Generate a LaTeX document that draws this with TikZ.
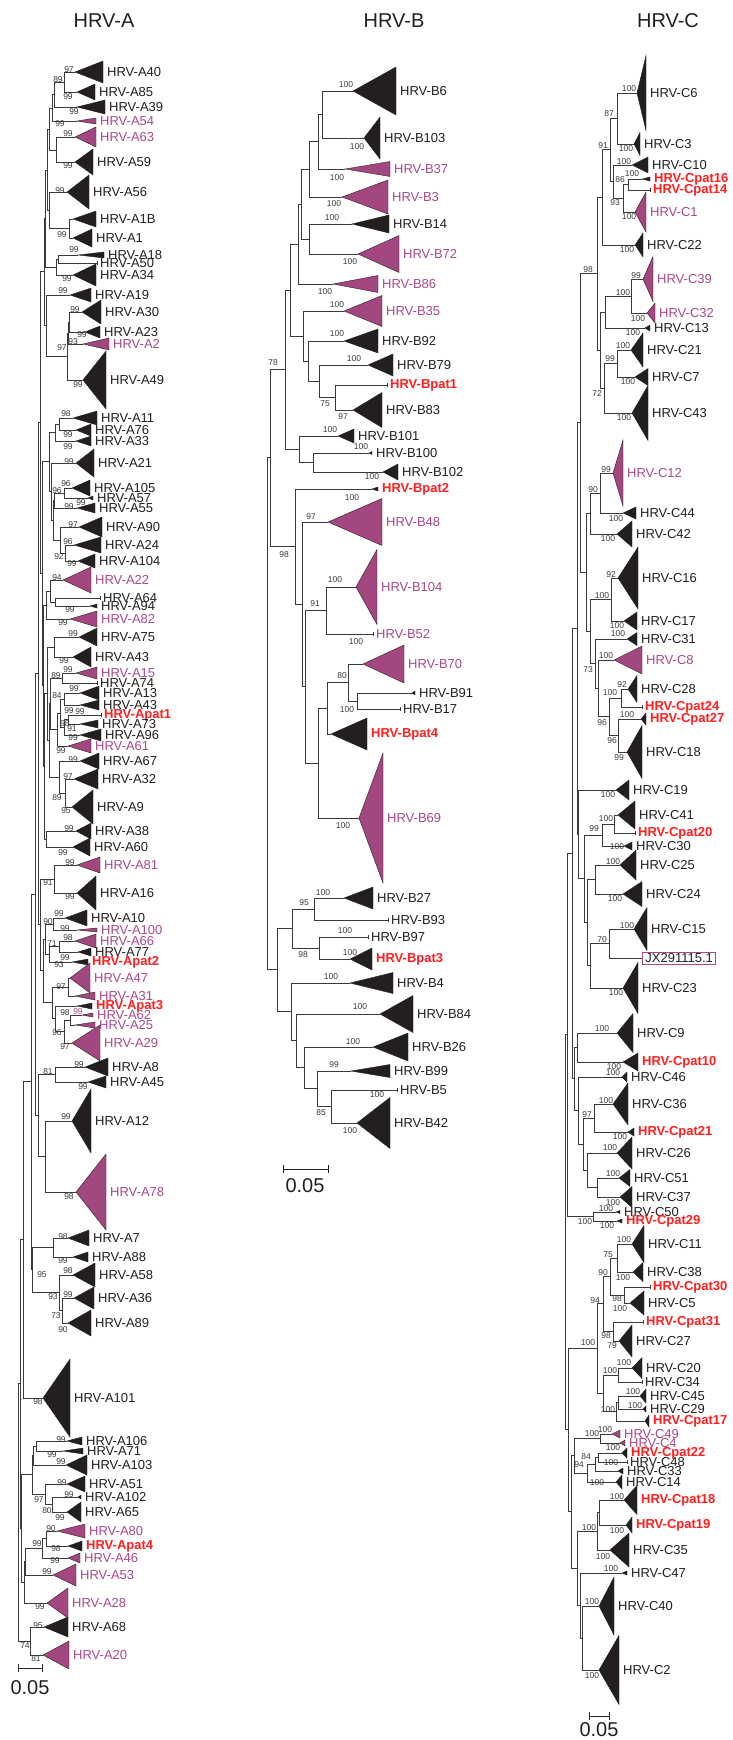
\documentclass[tikz,border=0pt]{standalone}
\usepackage{fontspec}
\setmainfont{Liberation Sans}

\definecolor{tblack}{HTML}{231F20}
\definecolor{tpurple}{HTML}{A2477F}
\definecolor{lpurple}{HTML}{A84A8C}
\definecolor{pred}{HTML}{FF1F1F}
\definecolor{lgrey}{HTML}{3A3A3A}

% parent x, child1 x/y, child2 x/y
\newcommand{\treefork}[5]{\draw[branch] (#2,#3) -| (#1,#5) -- (#4,#5);}
% apex x, y, base x, half height, fill style, text style, label
\newcommand{\clade}[7]{\filldraw[#5] (#1,#2) -- (#3,#2-#4) -- (#3,#2+#4) -- cycle;
  \node[leaf,#6] at (#3+4,#2) {#7};}
% single sequence: tip x, y, text style, label
\newcommand{\leaftip}[4]{\draw[branch] (#1,#2-2) -- (#1,#2+2);
  \node[leaf,#3] at (#1+3,#2) {#4};}
\newcommand{\boot}[3]{\node[bootn] at (#1,#2) {#3};}

\begin{document}
\begin{tikzpicture}[x=1pt,y=-1pt]
        \tikzstyle{every node}=[inner sep=0pt]
        \tikzstyle{branch}=[draw=lgrey, line width=0.75pt]
        \tikzstyle{blk}=[fill=tblack, draw=tblack, line width=0.4pt]
        \tikzstyle{pur}=[fill=tpurple, draw=tblack, line width=0.4pt]
        \tikzstyle{leaf}=[anchor=west, text=tblack, font=\fontsize{13}{15}\selectfont]
        \tikzstyle{purp}=[text=lpurple]
        \tikzstyle{pat}=[text=pred, font=\fontsize{13}{15}\selectfont\bfseries]
        \tikzstyle{bootn}=[text=lgrey, font=\fontsize{8.5}{10}\selectfont]
        \tikzstyle{treetitle}=[text=tblack, font=\fontsize{20}{24}\selectfont]
        \tikzstyle{scalebar}=[draw=tblack, line width=0.9pt]

        \fill[white] (0,0) rectangle (733,1740);
        \useasboundingbox (0,0) rectangle (733,1740);

        \node[treetitle] (titleA) at (104,21) {HRV-A};
        \node[treetitle] (titleB) at (394,21) {HRV-B};
        \node[treetitle] (titleC) at (668,21) {HRV-C};

        %% HRV-A
        \clade{75}{72}{103}{11}{blk}{}{HRV-A40}
        \clade{77}{92}{95}{8}{blk}{}{HRV-A85}
        \clade{77}{107}{105}{7}{blk}{}{HRV-A39}
        \clade{77}{121}{96}{3}{pur}{purp}{HRV-A54}
        \clade{75}{137}{96}{10}{pur}{purp}{HRV-A63}
        \clade{75}{162}{93}{13}{blk}{}{HRV-A59}
        \clade{67}{192}{89}{17}{blk}{}{HRV-A56}
        \clade{73}{219}{96}{8}{blk}{}{HRV-A1B}
        \clade{73}{238}{92}{9}{blk}{}{HRV-A1}
        \clade{78}{255}{104}{3}{blk}{}{HRV-A18}
        \leaftip{97}{263}{}{HRV-A50}
        \clade{73}{275}{96}{11}{blk}{}{HRV-A34}
        \clade{70}{295}{91}{7}{blk}{}{HRV-A19}
        \clade{82}{312}{101}{12}{blk}{}{HRV-A30}
        \clade{85}{332}{100}{6}{blk}{}{HRV-A23}
        \clade{83}{344}{109}{6}{pur}{purp}{HRV-A2}
        \clade{83}{380}{106}{29}{blk}{}{HRV-A49}
        \clade{73}{418}{97}{7}{blk}{}{HRV-A11}
        \clade{76}{430}{91}{6}{blk}{}{HRV-A76}
        \clade{76}{441}{91}{5}{blk}{}{HRV-A33}
        \clade{76}{463}{94}{14}{blk}{}{HRV-A21}
        \clade{72}{488}{90}{8}{blk}{}{HRV-A105}
        \clade{88}{498}{93}{2}{blk}{}{HRV-A57}
        \clade{77}{508}{95}{5}{blk}{}{HRV-A55}
        \clade{79}{527}{102}{10}{blk}{}{HRV-A90}
        \clade{74}{545}{101}{8}{blk}{}{HRV-A24}
        \clade{78}{561}{95}{7}{blk}{}{HRV-A104}
        \clade{63}{580}{91}{13}{pur}{purp}{HRV-A22}
        \leaftip{100}{598}{}{HRV-A64}
        \clade{90}{606}{97}{2}{blk}{}{HRV-A94}
        \clade{70}{619}{97}{8}{pur}{purp}{HRV-A82}
        \clade{79}{637}{97}{9}{blk}{}{HRV-A75}
        \clade{73}{657}{91}{10}{blk}{}{HRV-A43}
        \clade{76}{673}{97}{6}{pur}{purp}{HRV-A15}
        \leaftip{97}{683}{}{HRV-A74}
        \clade{80}{693}{99}{7}{blk}{}{HRV-A13}
        \clade{80}{705}{99}{5}{blk}{}{HRV-A43}
        \leaftip{101}{715}{pat}{HRV-Apat1}
        \clade{80}{724}{98}{4}{blk}{}{HRV-A73}
        \clade{80}{735}{101}{6}{blk}{}{HRV-A96}
        \clade{68}{746}{91}{7}{pur}{purp}{HRV-A61}
        \clade{80}{761}{99}{8}{blk}{}{HRV-A67}
        \clade{74}{779}{98}{10}{blk}{}{HRV-A32}
        \clade{72}{807}{93}{17}{blk}{}{HRV-A9}
        \clade{76}{831}{91}{8}{blk}{}{HRV-A38}
        \clade{73}{847}{90}{9}{blk}{}{HRV-A60}
        \clade{77}{865}{100}{8}{pur}{purp}{HRV-A81}
        \clade{77}{893}{96}{17}{blk}{}{HRV-A16}
        \clade{65}{918}{87}{8}{blk}{}{HRV-A10}
        \clade{77}{930}{97}{2}{pur}{purp}{HRV-A100}
        \clade{75}{941}{96}{7}{pur}{purp}{HRV-A66}
        \clade{78}{952}{91}{4}{blk}{}{HRV-A77}
        \clade{72}{962}{88}{3}{blk}{pat}{HRV-Apat2}
        \clade{70}{978}{90}{15}{pur}{purp}{HRV-A47}
        \clade{75}{996}{95}{4}{pur}{purp}{HRV-A31}
        \clade{77}{1006}{92}{3}{blk}{pat}{HRV-Apat3}
        \clade{82}{1015}{93}{2}{pur}{purp}{HRV-A62}
        \clade{75}{1025}{95}{3}{pur}{purp}{HRV-A25}
        \clade{72}{1043}{100}{18}{pur}{purp}{HRV-A29}
        \clade{85}{1067}{108}{9}{blk}{}{HRV-A8}
        \clade{88}{1082}{106}{6}{blk}{}{HRV-A45}
        \clade{72}{1121}{91}{32}{blk}{}{HRV-A12}
        \clade{76}{1192}{106}{38}{pur}{purp}{HRV-A78}
        \clade{68}{1238}{89}{8}{blk}{}{HRV-A7}
        \clade{73}{1257}{88}{5}{blk}{}{HRV-A88}
        \clade{73}{1275}{95}{12}{blk}{}{HRV-A58}
        \clade{74}{1298}{94}{11}{blk}{}{HRV-A36}
        \clade{68}{1323}{91}{13}{blk}{}{HRV-A89}
        \clade{43}{1398}{70}{39}{blk}{}{HRV-A101}
        \clade{67}{1441}{82}{4}{blk}{}{HRV-A106}
        \clade{63}{1451}{83}{3}{blk}{}{HRV-A71}
        \clade{66}{1465}{87}{10}{blk}{}{HRV-A103}
        \clade{67}{1484}{85}{8}{blk}{}{HRV-A51}
        \clade{78}{1497}{81}{2}{blk}{}{HRV-A102}
        \clade{67}{1512}{81}{10}{blk}{}{HRV-A65}
        \clade{57}{1531}{85}{7}{pur}{purp}{HRV-A80}
        \clade{68}{1546}{82}{5}{blk}{pat}{HRV-Apat4}
        \clade{68}{1558}{80}{5}{pur}{purp}{HRV-A46}
        \clade{53}{1575}{76}{11}{pur}{purp}{HRV-A53}
        \clade{47}{1603}{68}{15}{pur}{purp}{HRV-A28}
        \clade{44}{1627}{68}{10}{blk}{}{HRV-A68}
        \clade{43}{1655}{69}{14}{pur}{purp}{HRV-A20}

        \treefork{64}{75}{72}{77}{92}
        \treefork{54}{64}{82}{77}{107}
        \treefork{52}{54}{94}{77}{121}
        \treefork{56}{75}{137}{75}{162}
        \treefork{49}{52}{108}{56}{150}
        \treefork{69}{73}{219}{73}{238}
        \treefork{49}{67}{192}{69}{228}
        \treefork{47}{49}{129}{49}{210}
        \treefork{58}{78}{255}{97}{263}
        \treefork{56}{58}{259}{73}{275}
        \treefork{45}{47}{170}{56}{267}
        \treefork{69}{82}{312}{85}{332}
        \treefork{68}{69}{322}{83}{344}
        \treefork{67}{68}{333}{83}{380}
        \treefork{46}{70}{295}{67}{356}
        \treefork{44}{45}{218}{46}{325}
        \treefork{59}{73}{418}{76}{430}
        \treefork{55}{59}{424}{76}{441}
        \treefork{64}{72}{488}{88}{498}
        \treefork{54}{64}{493}{77}{508}
        \treefork{65}{74}{545}{78}{561}
        \treefork{60}{79}{527}{65}{553}
        \treefork{53}{54}{500}{60}{540}
        \treefork{51}{76}{463}{53}{520}
        \treefork{49}{55}{432}{51}{491}
        \treefork{55}{100}{598}{90}{606}
        \treefork{50}{63}{580}{55}{602}
        \treefork{46}{50}{591}{70}{619}
        \treefork{54}{79}{637}{73}{657}
        \treefork{62}{76}{673}{97}{683}
        \treefork{64}{80}{693}{80}{705}
        \treefork{68}{101}{715}{80}{724}
        \treefork{64}{68}{719}{80}{735}
        \treefork{60}{64}{699}{64}{727}
        \treefork{57}{60}{713}{68}{746}
        \treefork{50}{62}{678}{57}{729}
        \treefork{65}{74}{779}{72}{807}
        \treefork{59}{80}{761}{65}{793}
        \treefork{49}{50}{703}{59}{777}
        \treefork{47}{54}{647}{49}{740}
        \treefork{46}{76}{831}{73}{847}
        \treefork{44}{47}{693}{46}{839}
        \treefork{43}{46}{605}{44}{766}
        \treefork{42}{49}{461}{43}{685}
        \treefork{40}{44}{271}{42}{573}
        \treefork{54}{77}{865}{77}{893}
        \treefork{53}{65}{918}{77}{930}
        \treefork{59}{75}{941}{78}{952}
        \treefork{49}{59}{946}{72}{962}
        \treefork{45}{53}{924}{49}{954}
        \treefork{68}{70}{978}{75}{996}
        \treefork{70}{82}{1015}{75}{1025}
        \treefork{64}{70}{1020}{72}{1043}
        \treefork{55}{77}{1006}{64}{1031}
        \treefork{52}{68}{987}{55}{1018}
        \treefork{43}{45}{939}{52}{1002}
        \treefork{40}{54}{879}{43}{970}
        \treefork{38}{40}{422}{40}{924}
        \treefork{55}{85}{1067}{88}{1082}
        \treefork{45}{72}{1121}{76}{1192}
        \treefork{38}{55}{1074}{45}{1156}
        \treefork{35}{38}{673}{38}{1115}
        \treefork{53}{68}{1238}{73}{1257}
        \treefork{62}{74}{1298}{68}{1323}
        \treefork{59}{73}{1275}{62}{1310}
        \treefork{32}{53}{1247}{59}{1292}
        \treefork{31}{35}{894}{32}{1269}
        \treefork{23}{31}{1081}{43}{1398}
        \treefork{36}{67}{1441}{63}{1451}
        \treefork{33}{36}{1446}{66}{1465}
        \treefork{52}{78}{1497}{67}{1512}
        \treefork{45}{67}{1484}{52}{1504}
        \treefork{32}{33}{1455}{45}{1494}
        \treefork{46}{57}{1531}{68}{1546}
        \treefork{42}{46}{1538}{68}{1558}
        \treefork{25}{42}{1548}{53}{1575}
        \treefork{24}{25}{1561}{47}{1603}
        \treefork{21}{32}{1474}{24}{1582}
        \treefork{20}{23}{1239}{21}{1528}
        \treefork{30}{44}{1627}{43}{1655}
        \treefork{18}{20}{1383}{30}{1641}

        \boot{69}{70}{97} \boot{68}{97}{99} \boot{58}{80}{89} \boot{74}{112}{99}
        \boot{60}{124}{99} \boot{68}{134}{99} \boot{68}{166}{99} \boot{60}{191}{99}
        \boot{62}{235}{99} \boot{74}{250}{99} \boot{67}{279}{99} \boot{63}{291}{99}
        \boot{75}{310}{99} \boot{82}{335}{99} \boot{73}{342}{93} \boot{62}{348}{97}
        \boot{78}{385}{99} \boot{66}{414}{98} \boot{68}{435}{99} \boot{68}{447}{99}
        \boot{69}{462}{99} \boot{66}{484}{96} \boot{57}{491}{96} \boot{81}{503}{99}
        \boot{69}{507}{99} \boot{73}{525}{97} \boot{68}{542}{96} \boot{59}{557}{92}
        \boot{72}{564}{99} \boot{57}{578}{94} \boot{70}{610}{99} \boot{63}{623}{99}
        \boot{73}{634}{99} \boot{64}{661}{99} \boot{68}{670}{99} \boot{56}{676}{89}
        \boot{74}{689}{99} \boot{57}{696}{84} \boot{69}{711}{99} \boot{80}{712}{99}
        \boot{65}{724}{98} \boot{72}{729}{91} \boot{73}{738}{99} \boot{61}{751}{99}
        \boot{73}{760}{99} \boot{68}{777}{97} \boot{57}{798}{89} \boot{66}{811}{95}
        \boot{69}{829}{99} \boot{63}{853}{99} \boot{70}{863}{99} \boot{48}{883}{91}
        \boot{70}{897}{99} \boot{59}{914}{99} \boot{48}{922}{90} \boot{65}{929}{99}
        \boot{68}{938}{98} \boot{52}{944}{71} \boot{65}{958}{99} \boot{59}{965}{93}
        \boot{61}{987}{97} \boot{65}{1013}{98} \node[bootn, text=lpurple] at (78,1012) {99};
        \boot{57}{1033}{96} \boot{65}{1047}{97} \boot{79}{1065}{99} \boot{48}{1072}{81}
        \boot{83}{1087}{99} \boot{66}{1117}{99} \boot{69}{1197}{98} \boot{63}{1237}{98}
        \boot{63}{1261}{99} \boot{68}{1271}{98} \boot{42}{1275}{95} \boot{68}{1295}{99}
        \boot{53}{1297}{93} \boot{56}{1316}{73} \boot{63}{1330}{90} \boot{38}{1402}{98}
        \boot{61}{1440}{99} \boot{52}{1455}{99} \boot{61}{1462}{99} \boot{62}{1483}{99}
        \boot{69}{1495}{99} \boot{39}{1500}{97} \boot{47}{1511}{80} \boot{60}{1518}{99}
        \boot{51}{1529}{90} \boot{37}{1544}{99} \boot{56}{1549}{98} \boot{55}{1561}{99}
        \boot{47}{1572}{99} \boot{40}{1607}{99} \boot{38}{1626}{95} \boot{25}{1646}{74}
        \boot{36}{1659}{81}

        \coordinate (scaleAl) at (18,1668);
        \coordinate (scaleAr) at (42,1668);
        \draw[scalebar] (scaleAl) -- (scaleAr);
        \draw[scalebar] (18,1664) -- (18,1672) (42,1664) -- (42,1672);
        \node[treetitle] (barA) at (30,1688) {0.05};

        %% HRV-B
        \clade{353}{91}{396}{24}{blk}{}{HRV-B6}
        \clade{364}{138}{380}{21}{blk}{}{HRV-B103}
        \clade{345}{169}{390}{7.5}{pur}{purp}{HRV-B37}
        \clade{342}{197}{388}{17}{pur}{purp}{HRV-B3}
        \clade{352}{224}{389}{9}{blk}{}{HRV-B14}
        \clade{358}{254}{399}{18.5}{pur}{purp}{HRV-B72}
        \clade{333}{284}{378}{8.5}{pur}{purp}{HRV-B86}
        \clade{344}{311}{382}{15.5}{pur}{purp}{HRV-B35}
        \clade{344}{341}{378}{12}{blk}{}{HRV-B92}
        \clade{368}{365}{393}{11}{blk}{}{HRV-B79}
        \leaftip{387}{385}{pat}{HRV-Bpat1}
        \clade{353}{410}{382}{17.5}{blk}{}{HRV-B83}
        \clade{338}{436}{354}{7}{blk}{}{HRV-B101}
        \clade{369}{453}{372}{1.5}{blk}{}{HRV-B100}
        \clade{383}{472}{398}{8}{blk}{}{HRV-B102}
        \clade{372}{489}{378}{2}{blk}{pat}{HRV-Bpat2}
        \clade{328}{522}{382}{23.5}{pur}{purp}{HRV-B48}
        \clade{356}{587}{377}{37.5}{pur}{purp}{HRV-B104}
        \leaftip{373}{634}{purp}{HRV-B52}
        \clade{363}{664}{404}{19}{pur}{purp}{HRV-B70}
        \clade{412}{693}{415}{2}{blk}{}{HRV-B91}
        \leaftip{400}{709}{}{HRV-B17}
        \clade{331}{734}{367}{16}{blk}{pat}{HRV-Bpat4}
        \clade{359}{818}{383}{65}{pur}{purp}{HRV-B69}
        \clade{344}{898}{373}{11}{blk}{}{HRV-B27}
        \leaftip{388}{920}{}{HRV-B93}
        \leaftip{368}{937}{}{HRV-B97}
        \clade{350}{959}{372}{11}{blk}{pat}{HRV-Bpat3}
        \clade{350}{983}{393}{10.5}{blk}{}{HRV-B4}
        \clade{380}{1014}{413}{18.5}{blk}{}{HRV-B84}
        \clade{373}{1047}{408}{14}{blk}{}{HRV-B26}
        \clade{351}{1071}{390}{6.5}{blk}{}{HRV-B99}
        \leaftip{397}{1090}{}{HRV-B5}
        \clade{357}{1123}{390}{25.5}{blk}{}{HRV-B42}

        \treefork{322}{353}{91}{364}{138}
        \treefork{318}{322}{114}{345}{169}
        \treefork{309}{318}{141}{342}{197}
        \treefork{309}{352}{224}{358}{254}
        \treefork{301}{309}{169}{309}{239}
        \treefork{298}{301}{204}{333}{284}
        \treefork{335}{387}{385}{353}{410}
        \treefork{319}{368}{365}{335}{397}
        \treefork{308}{344}{341}{319}{381}
        \treefork{303}{344}{311}{308}{361}
        \treefork{290}{298}{244}{303}{336}
        \treefork{313}{369}{453}{383}{472}
        \treefork{299}{338}{436}{313}{462}
        \treefork{285}{290}{290}{299}{449}
        \treefork{326}{356}{587}{373}{634}
        \treefork{357}{412}{693}{400}{709}
        \treefork{348}{363}{664}{357}{701}
        \treefork{327}{348}{682}{331}{734}
        \treefork{318}{327}{708}{359}{818}
        \treefork{305}{326}{610}{318}{763}
        \treefork{302}{328}{522}{305}{686}
        \treefork{295}{372}{489}{302}{604}
        \treefork{270}{285}{369}{295}{546}
        \treefork{314}{344}{898}{388}{920}
        \treefork{319}{368}{937}{350}{959}
        \treefork{292}{314}{909}{319}{948}
        \treefork{331}{397}{1090}{357}{1123}
        \treefork{317}{351}{1071}{331}{1106}
        \treefork{304}{373}{1047}{317}{1088}
        \treefork{296}{380}{1014}{304}{1067}
        \treefork{291}{350}{983}{296}{1040}
        \treefork{277}{292}{928}{291}{1011}
        \treefork{267}{270}{457}{277}{969}

        \boot{346}{85}{100} \boot{357}{147}{100} \boot{337}{178}{100} \boot{334}{204}{100}
        \boot{332}{218}{100} \boot{350}{262}{100} \boot{325}{292}{100} \boot{337}{305}{100}
        \boot{337}{334}{100} \boot{354}{359}{100} \boot{325}{404}{75} \boot{343}{417}{97}
        \boot{330}{430}{100} \boot{361}{447}{100} \boot{372}{477}{100} \boot{273}{363}{78}
        \boot{352}{498}{100} \boot{311}{517}{97} \boot{284}{555}{98} \boot{335}{580}{100}
        \boot{315}{604}{91} \boot{356}{642}{100} \boot{342}{676}{80} \boot{347}{710}{100}
        \boot{343}{826}{100} \boot{323}{893}{100} \boot{304}{903}{95} \boot{345}{931}{100}
        \boot{303}{955}{98} \boot{350}{953}{100} \boot{331}{977}{100} \boot{360}{1007}{100}
        \boot{353}{1042}{100} \boot{334}{1065}{99} \boot{377}{1095}{100} \boot{321}{1113}{85}
        \boot{350}{1131}{100}

        \coordinate (scaleBl) at (283,1169);
        \coordinate (scaleBr) at (328,1169);
        \draw[scalebar] (scaleBl) -- (scaleBr);
        \draw[scalebar] (283,1165) -- (283,1173) (328,1165) -- (328,1173);
        \node[treetitle] (barB) at (305,1186) {0.05};

        %% HRV-C
        \clade{637}{93}{646}{37.5}{blk}{}{HRV-C6}
        \clade{634}{144}{640}{11.5}{blk}{}{HRV-C3}
        \clade{632}{165}{648}{8}{blk}{}{HRV-C10}
        \clade{642}{179}{650}{2}{blk}{pat}{HRV-Cpat16}
        \leaftip{650}{190}{pat}{HRV-Cpat14}
        \clade{635}{212}{646}{20}{pur}{purp}{HRV-C1}
        \clade{635}{245}{643}{12}{blk}{}{HRV-C22}
        \clade{643}{279}{653}{22.5}{pur}{purp}{HRV-C39}
        \clade{647}{313}{655}{10}{pur}{purp}{HRV-C32}
        \clade{645}{328}{650}{3}{blk}{}{HRV-C13}
        \clade{631}{350}{643}{17}{blk}{}{HRV-C21}
        \clade{635}{377}{648}{8.5}{blk}{}{HRV-C7}
        \clade{632}{413}{648}{27.5}{blk}{}{HRV-C43}
        \clade{613}{473}{623}{33}{pur}{purp}{HRV-C12}
        \clade{623}{513}{636}{6}{blk}{}{HRV-C44}
        \clade{617}{534}{632}{13}{blk}{}{HRV-C42}
        \clade{618}{578}{638}{31}{blk}{}{HRV-C16}
        \clade{624}{621}{637}{9}{blk}{}{HRV-C17}
        \clade{627}{639}{637}{6.5}{blk}{}{HRV-C31}
        \clade{614}{660}{642}{14}{pur}{purp}{HRV-C8}
        \clade{628}{689}{637}{13.5}{blk}{}{HRV-C28}
        \leaftip{642}{707}{pat}{HRV-Cpat24}
        \clade{641}{719}{646}{6}{blk}{pat}{HRV-Cpat27}
        \clade{627}{752}{642}{26.5}{blk}{}{HRV-C18}
        \clade{616}{790}{629}{10}{blk}{}{HRV-C19}
        \clade{618}{815}{635}{14}{blk}{}{HRV-C41}
        \leaftip{635}{833}{pat}{HRV-Cpat20}
        \clade{624}{846}{632}{4}{blk}{}{HRV-C30}
        \clade{620}{865}{636}{15}{blk}{}{HRV-C25}
        \clade{623}{894}{642}{12.5}{blk}{}{HRV-C24}
        \clade{634}{929}{647}{21.5}{blk}{}{HRV-C15}
        \draw[branch] (642,956) -- (642,960);
        \node[leaf, draw=lpurple, line width=0.8pt, inner xsep=3pt, inner ysep=1.5pt] (jx) at (642,958) {JX291115.1};
        \clade{623}{988}{638}{25.5}{blk}{}{HRV-C23}
        \clade{617}{1033}{633}{19.5}{blk}{}{HRV-C9}
        \clade{623}{1062}{638}{9}{blk}{pat}{HRV-Cpat10}
        \clade{622}{1077}{627}{5}{blk}{}{HRV-C46}
        \clade{613}{1104}{628}{21}{blk}{}{HRV-C36}
        \clade{628}{1132}{634}{4}{blk}{pat}{HRV-Cpat21}
        \clade{617}{1153}{632}{16}{blk}{}{HRV-C26}
        \clade{619}{1178}{630}{8.5}{blk}{}{HRV-C51}
        \clade{620}{1197}{632}{10.5}{blk}{}{HRV-C37}
        \clade{616}{1212}{620}{1.5}{blk}{}{HRV-C50}
        \clade{617}{1221}{622}{2}{blk}{pat}{HRV-Cpat29}
        \clade{632}{1244}{644}{18.5}{blk}{}{HRV-C11}
        \clade{633}{1272}{643}{9.5}{blk}{}{HRV-C38}
        \leaftip{650}{1287}{pat}{HRV-Cpat30}
        \clade{630}{1303}{644}{12}{blk}{}{HRV-C5}
        \leaftip{643}{1322}{pat}{HRV-Cpat31}
        \clade{619}{1341}{632}{16}{blk}{}{HRV-C27}
        \clade{632}{1368}{642}{10.5}{blk}{}{HRV-C20}
        \leaftip{642}{1382}{}{HRV-C34}
        \clade{640}{1396}{646}{7}{blk}{}{HRV-C45}
        \clade{643}{1409}{646}{3}{blk}{}{HRV-C29}
        \clade{645}{1421}{649}{6}{blk}{pat}{HRV-Cpat17}
        \clade{612}{1434}{620}{4}{pur}{purp}{HRV-C49}
        \clade{620}{1443}{625}{3}{pur}{purp}{HRV-C4}
        \clade{622}{1453}{627}{5}{blk}{pat}{HRV-Cpat22}
        \leaftip{627}{1462}{}{HRV-C48}
        \clade{618}{1471}{623}{3}{blk}{}{HRV-C33}
        \clade{616}{1482}{622}{7}{blk}{}{HRV-C14}
        \clade{624}{1500}{637}{14.5}{blk}{pat}{HRV-Cpat18}
        \clade{626}{1525}{632}{8}{blk}{pat}{HRV-Cpat19}
        \clade{610}{1550}{629}{17}{blk}{}{HRV-C35}
        \clade{622}{1573}{627}{2}{blk}{}{HRV-C47}
        \clade{599}{1606}{614}{29}{blk}{}{HRV-C40}
        \clade{599}{1670}{619}{34.5}{blk}{}{HRV-C2}

        \treefork{617}{637}{93}{634}{144}
        \treefork{628}{642}{179}{650}{190}
        \treefork{623}{628}{184}{635}{212}
        \treefork{613}{632}{165}{623}{198}
        \treefork{610}{617}{118}{613}{181}
        \treefork{602}{610}{149}{635}{245}
        \treefork{631}{643}{279}{647}{313}
        \treefork{605}{631}{296}{645}{328}
        \treefork{617}{631}{350}{635}{377}
        \treefork{604}{617}{363}{632}{413}
        \treefork{600}{605}{312}{604}{388}
        \treefork{597}{602}{197}{600}{350}
        \treefork{600}{613}{473}{623}{513}
        \treefork{590}{600}{493}{617}{534}
        \treefork{611}{618}{578}{624}{621}
        \treefork{621}{628}{689}{642}{707}
        \treefork{618}{641}{719}{627}{752}
        \treefork{609}{621}{698}{618}{735}
        \treefork{598}{614}{660}{609}{716}
        \treefork{595}{627}{639}{598}{688}
        \treefork{590}{611}{599}{595}{663}
        \treefork{586}{590}{513}{590}{631}
        \treefork{580}{597}{273}{586}{572}
        \treefork{614}{618}{815}{635}{833}
        \treefork{602}{614}{824}{624}{846}
        \treefork{595}{620}{865}{623}{894}
        \treefork{609}{634}{929}{642}{958}
        \treefork{590}{609}{943}{623}{988}
        \treefork{587}{595}{879}{590}{965}
        \treefork{584}{602}{835}{587}{922}
        \treefork{578}{616}{790}{584}{878}
        \treefork{577}{580}{422}{578}{834}
        \treefork{577}{617}{1033}{623}{1062}
        \treefork{594}{613}{1104}{628}{1132}
        \treefork{597}{619}{1178}{620}{1197}
        \treefork{587}{617}{1153}{597}{1187}
        \treefork{583}{594}{1118}{587}{1170}
        \treefork{578}{622}{1077}{583}{1144}
        \treefork{574}{577}{1047}{578}{1110}
        \treefork{572}{577}{628}{574}{1078}
        \treefork{593}{616}{1212}{617}{1221}
        \treefork{567}{572}{853}{593}{1216}
        \treefork{617}{632}{1244}{633}{1272}
        \treefork{624}{650}{1287}{630}{1303}
        \treefork{610}{617}{1258}{624}{1295}
        \treefork{613}{643}{1322}{619}{1341}
        \treefork{603}{610}{1276}{613}{1331}
        \treefork{618}{632}{1368}{642}{1382}
        \treefork{618}{640}{1396}{643}{1409}
        \treefork{616}{618}{1402}{645}{1421}
        \treefork{603}{618}{1375}{616}{1411}
        \treefork{597}{603}{1303}{603}{1393}
        \treefork{600}{612}{1434}{620}{1443}
        \treefork{598}{622}{1453}{627}{1462}
        \treefork{595}{598}{1457}{618}{1471}
        \treefork{587}{595}{1464}{616}{1482}
        \treefork{574}{600}{1438}{587}{1473}
        \treefork{599}{624}{1500}{626}{1525}
        \treefork{597}{599}{1512}{610}{1550}
        \treefork{582}{599}{1606}{599}{1670}
        \treefork{580}{622}{1573}{582}{1638}
        \treefork{577}{597}{1531}{580}{1605}
        \treefork{571}{574}{1455}{577}{1568}
        \treefork{568}{597}{1348}{571}{1511}
        \treefork{565}{567}{1034}{568}{1429}

        \boot{629}{89}{100} \boot{626}{149}{100} \boot{609}{114}{87} \boot{624}{162}{100}
        \boot{632}{174}{100} \boot{629}{217}{100} \boot{620}{180}{86} \boot{615}{203}{93}
        \boot{603}{146}{91} \boot{627}{250}{100} \boot{636}{276}{99} \boot{638}{319}{100}
        \boot{623}{293}{100} \boot{633}{333}{100} \boot{623}{346}{100} \boot{628}{382}{100}
        \boot{610}{359}{99} \boot{624}{418}{100} \boot{597}{394}{72} \boot{588}{270}{98}
        \boot{606}{470}{99} \boot{616}{519}{100} \boot{593}{490}{90} \boot{608}{539}{100}
        \boot{611}{575}{92} \boot{617}{626}{100} \boot{602}{596}{100} \boot{618}{634}{100}
        \boot{606}{656}{100} \boot{622}{685}{92} \boot{627}{715}{100} \boot{619}{758}{99}
        \boot{612}{741}{96} \boot{610}{693}{100} \boot{602}{723}{96} \boot{588}{670}{73}
        \boot{608}{795}{100} \boot{606}{819}{100} \boot{617}{847}{100} \boot{594}{829}{99}
        \boot{613}{862}{100} \boot{615}{899}{100} \boot{627}{926}{100} \boot{602}{940}{70}
        \boot{616}{993}{100} \boot{602}{1029}{100} \boot{614}{1067}{100} \boot{613}{1073}{100}
        \boot{606}{1101}{100} \boot{620}{1137}{100} \boot{587}{1115}{97} \boot{610}{1148}{100}
        \boot{613}{1174}{100} \boot{613}{1203}{100} \boot{606}{1209}{100} \boot{607}{1226}{100}
        \boot{585}{1222}{100} \boot{624}{1240}{100} \boot{623}{1278}{100} \boot{608}{1255}{75}
        \boot{617}{1299}{98} \boot{603}{1273}{90} \boot{620}{1309}{100} \boot{595}{1301}{94}
        \boot{606}{1336}{98} \boot{612}{1346}{79} \boot{624}{1363}{100} \boot{610}{1371}{100}
        \boot{633}{1392}{100} \boot{635}{1406}{100} \boot{608}{1410}{100} \boot{588}{1343}{100}
        \boot{605}{1430}{100} \boot{592}{1434}{100} \boot{613}{1448}{100} \boot{586}{1457}{84}
        \boot{611}{1463}{100} \boot{579}{1465}{94} \boot{597}{1483}{100} \boot{617}{1497}{100}
        \boot{617}{1531}{100} \boot{589}{1528}{100} \boot{603}{1557}{100} \boot{611}{1569}{100}
        \boot{592}{1602}{100} \boot{592}{1676}{100}

        \coordinate (scaleCl) at (589,1716);
        \coordinate (scaleCr) at (609,1716);
        \draw[scalebar] (scaleCl) -- (scaleCr);
        \draw[scalebar] (589,1712) -- (589,1720) (609,1712) -- (609,1720);
        \node[treetitle] (barC) at (599,1730) {0.05};

    \end{tikzpicture}
\end{document}
